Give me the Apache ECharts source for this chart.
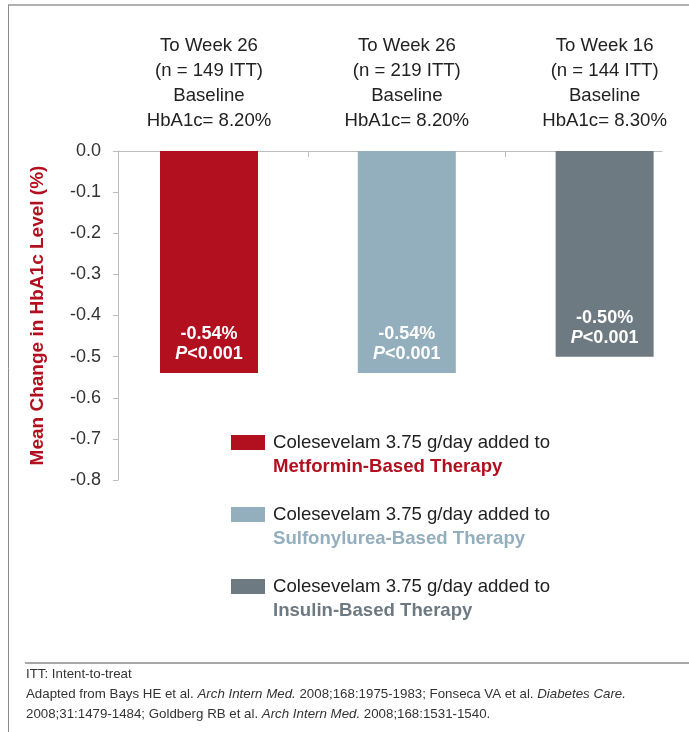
<!DOCTYPE html>
<html>
<head>
<meta charset="utf-8">
<title>Colesevelam HbA1c change</title>
<script src="https://cdn.jsdelivr.net/npm/echarts@6/dist/echarts.min.js"></script>
<style>
  html, body { margin: 0; padding: 0; background: #ffffff; }
  #chart { width: 689px; height: 732px; }
</style>
</head>
<body>
<div id="chart"></div>
<script>
// Study groups, in drawing order
const groupHeaders = [
  'To Week 26\n(n = 149 ITT)\nBaseline\nHbA1c= 8.20%',
  'To Week 26\n(n = 219 ITT)\nBaseline\nHbA1c= 8.20%',
  'To Week 16\n(n = 144 ITT)\nBaseline\nHbA1c= 8.30%'
];
const therapyNames = ['Metformin-Based Therapy', 'Sulfonylurea-Based Therapy', 'Insulin-Based Therapy'];
const legendLead = 'Colesevelam 3.75 g/day added to';
// Mean change in HbA1c (%)
const meanChange = [-0.54, -0.54, -0.50];
const pValues = ['<0.001', '<0.001', '<0.001'];
const barColors = ['#b20f1f', '#93aebd', '#6e7a82'];
const richKeys = ['m', 's', 'i'];

const FONT = '"Liberation Sans", Arial, sans-serif';

const chart = echarts.init(document.getElementById('chart'), null, { renderer: 'canvas' });

const series = meanChange.map((v, i) => ({
  name: therapyNames[i],
  type: 'bar',
  barWidth: 98,
  barGap: '-100%',
  data: [[i, v]],
  itemStyle: { color: barColors[i] },
  label: {
    show: true,
    position: 'insideBottom',
    distance: 9,
    formatter: () => '{v|' + v.toFixed(2) + '%}\n{p|P}{q|' + pValues[i] + '}',
    rich: {
      v: { color: '#ffffff', fontFamily: FONT, fontSize: 18, fontWeight: 'bold', lineHeight: 20 },
      p: { color: '#ffffff', fontFamily: FONT, fontSize: 18, fontWeight: 'bold', fontStyle: 'italic', lineHeight: 20 },
      q: { color: '#ffffff', fontFamily: FONT, fontSize: 18, fontWeight: 'bold', lineHeight: 20 }
    }
  },
  emphasis: { disabled: true }
}));

// Legend text: an empty first line keeps the swatch level with the lead line
const legendRich = {
  e: { fontSize: 18.6, lineHeight: 24 },
  a: { color: '#222222', fontFamily: FONT, fontSize: 18.6, lineHeight: 24, padding: [0, 0, 0, 3] }
};
richKeys.forEach((k, i) => {
  legendRich[k] = { color: barColors[i], fontFamily: FONT, fontSize: 18.6, fontWeight: 'bold', lineHeight: 24, padding: [0, 0, 0, 3] };
});

chart.setOption({
  animation: false,
  backgroundColor: '#ffffff',
  textStyle: { fontFamily: FONT },
  title: {
    left: 26,
    top: 664,
    padding: 0,
    text: 'ITT: Intent-to-treat\n' +
      'Adapted from Bays HE et al. {i|Arch Intern Med.} 2008;168:1975-1983; Fonseca VA et al. {i|Diabetes Care.}\n' +
      '2008;31:1479-1484; Goldberg RB et al. {i|Arch Intern Med.} 2008;168:1531-1540.',
    textStyle: {
      fontFamily: FONT, fontSize: 13.3, fontWeight: 'normal', color: '#333333', lineHeight: 20,
      rich: { i: { fontFamily: FONT, fontSize: 13.3, fontStyle: 'italic', color: '#333333', lineHeight: 20 } }
    }
  },
  grid: { left: 118, top: 151, right: 27, bottom: 252, containLabel: false },
  legend: {
    orient: 'vertical',
    left: 231,
    top: 409,
    padding: 0,
    itemGap: 5,
    itemWidth: 34,
    itemHeight: 15,
    icon: 'rect',
    data: therapyNames,
    selectedMode: false,
    formatter: name => {
      const i = therapyNames.indexOf(name);
      return '{e| }\n{a|' + legendLead + '}\n{' + richKeys[i] + '|' + name + '}';
    },
    textStyle: { rich: legendRich }
  },
  xAxis: {
    type: 'value',
    position: 'top',
    min: -0.46,
    max: 2.29,
    splitLine: { show: false },
    axisLine: { show: true, onZero: false, lineStyle: { color: '#bdbdbd', width: 1 } },
    axisTick: { show: true, inside: true, length: 6, customValues: [0.5, 1.5], lineStyle: { color: '#bdbdbd' } },
    axisLabel: {
      show: true,
      customValues: [0, 1, 2],
      margin: 18,
      formatter: v => groupHeaders[Math.round(v)] || '',
      color: '#222222',
      fontFamily: FONT,
      fontSize: 18.6,
      lineHeight: 25,
      align: 'center'
    }
  },
  yAxis: {
    type: 'value',
    min: -0.8,
    max: 0,
    interval: 0.1,
    name: 'Mean Change in HbA1c Level (%)',
    nameLocation: 'middle',
    nameGap: 71,
    nameRotate: 90,
    nameTextStyle: { color: '#b20f1f', fontFamily: FONT, fontSize: 19, fontWeight: 'bold' },
    splitLine: { show: false },
    axisLine: { show: true, onZero: false, lineStyle: { color: '#bdbdbd', width: 1 } },
    axisTick: { show: true, length: 5, lineStyle: { color: '#bdbdbd' } },
    axisLabel: {
      margin: 17,
      color: '#333333',
      fontFamily: FONT,
      fontSize: 18,
      formatter: v => v.toFixed(1)
    }
  },
  graphic: [
    { type: 'line', shape: { x1: 8, y1: 5, x2: 689, y2: 5 }, style: { stroke: '#b0b0b0', lineWidth: 2 }, silent: true },
    { type: 'line', shape: { x1: 8.5, y1: 5, x2: 8.5, y2: 732 }, style: { stroke: '#8c8c8c', lineWidth: 1 }, silent: true },
    { type: 'line', shape: { x1: 25, y1: 663, x2: 689, y2: 663 }, style: { stroke: '#8a8a8a', lineWidth: 1.5 }, silent: true }
  ],
  series: series
});
</script>
</body>
</html>
